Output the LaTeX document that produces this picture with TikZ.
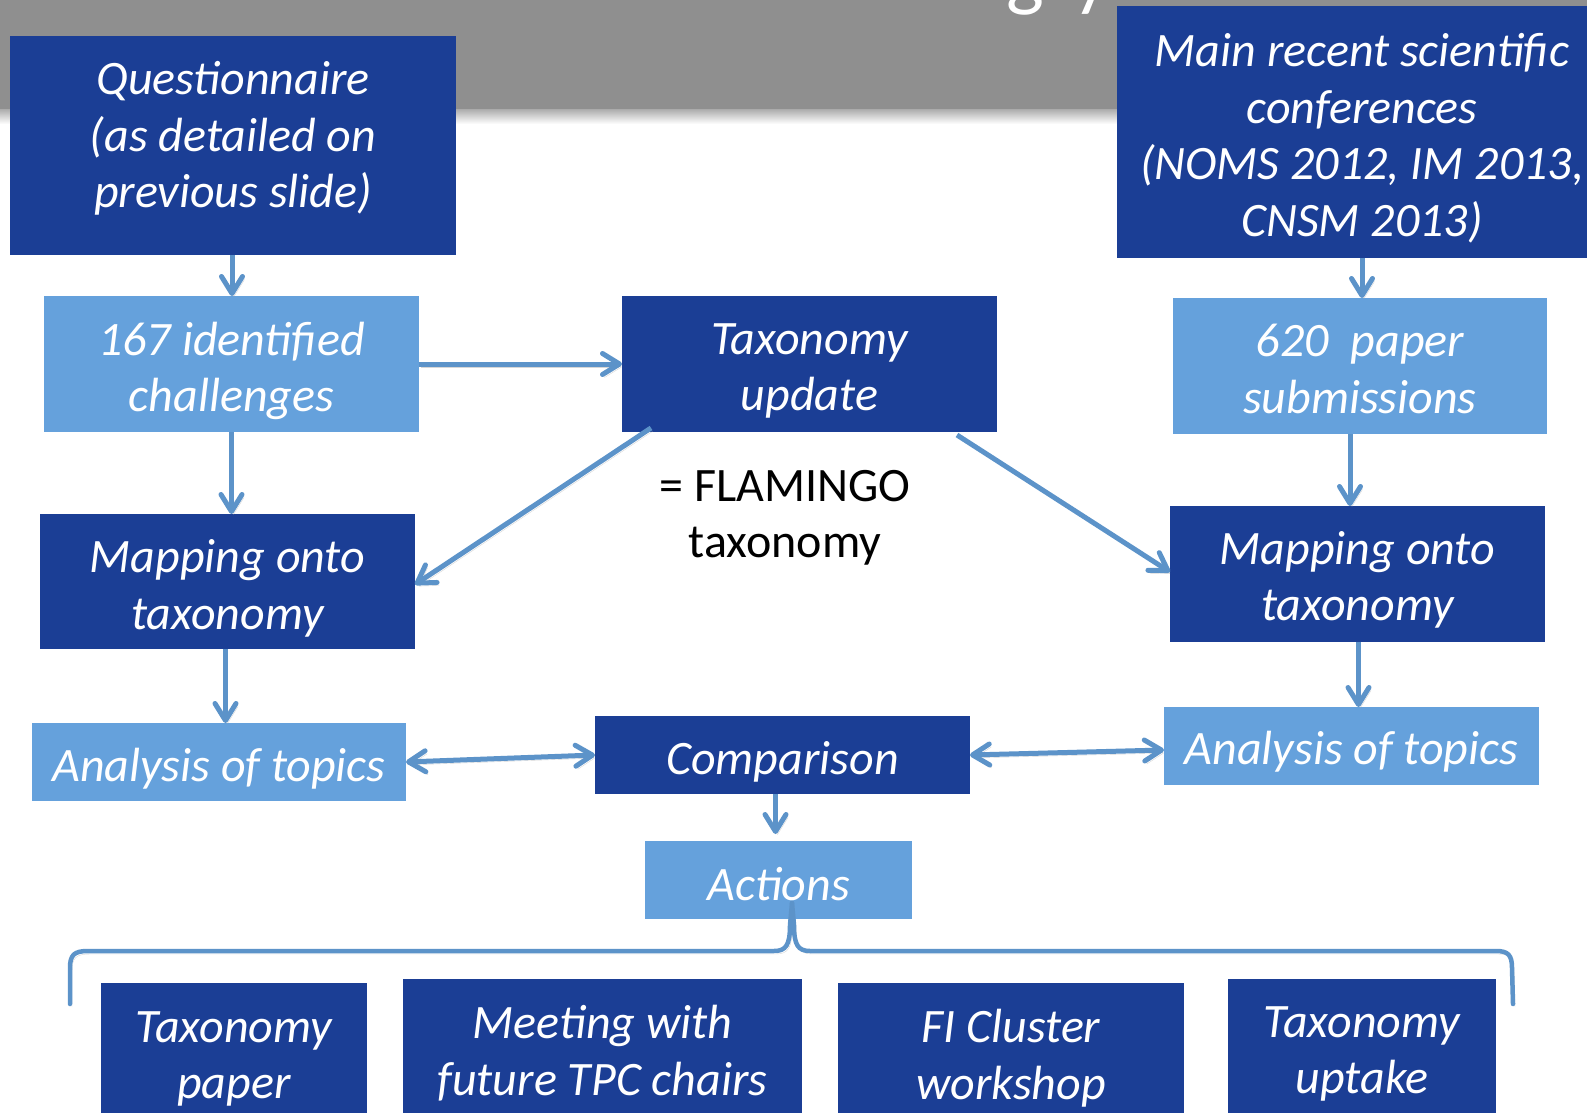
\documentclass[tikz,border=0pt]{standalone}
\usepackage{fontspec}
\setmainfont{Carlito}
\usetikzlibrary{arrows.meta,calc}
\definecolor{dkb}{RGB}{27,62,149}
\definecolor{ltb}{RGB}{101,161,220}
\definecolor{arr}{RGB}{92,147,201}
\definecolor{band}{RGB}{143,143,143}
\begin{document}
\begin{tikzpicture}[x=1pt,y=-1pt,
  txt/.style={font=\fontsize{48}{56.5}\selectfont\itshape, text=white, align=center, inner sep=0pt},
  box/.style={inner sep=0pt, outer sep=0pt},
  dark/.style={box, fill=dkb},
  light/.style={box, fill=ltb},
  tipb/.tip={Straight Barb[length=17pt,width=21pt,line width=5pt,round]},
  shad/.style={preaction={draw=black!35, opacity=0.45, transform canvas={xshift=2pt,yshift=-3pt}}},
  conn/.style={draw=arr, line width=5pt, -tipb, shad},
  conn2/.style={draw=arr, line width=5pt, tipb-tipb, shad},
  bracest/.style={draw=arr, line width=4.5pt, line cap=round, shad},
]
\useasboundingbox (0,0) rectangle (1587,1113);
\clip (0,0) rectangle (1587,1113);
\fill[white] (0,0) rectangle (1587,1113);
% top band
\fill[band] (0,0) rectangle (1587,110);
\shade[top color=band!70, bottom color=white] (0,110) rectangle (1587,124);
\node[font=\fontsize{80}{80}\selectfont, text=white, anchor=base west, inner sep=0pt] (title) at (1006,2) {g\kern30pt y};

% boxes
\node[dark, minimum width=446pt, minimum height=219pt,
  label={[txt, yshift=7pt]center:{Questionnaire\\(as detailed on\\previous slide)}}] (q) at (233,145.5) {};
\node[dark, minimum width=490pt, minimum height=252pt,
  label={[txt, yshift=-6pt]center:{Main recent scientific\\conferences\\(NOMS 2012, IM 2013,\\CNSM 2013)}}] (mr) at (1362,132) {};
\node[light, minimum width=375pt, minimum height=136pt,
  label={[txt, yshift=-7pt]center:{167 identified\\challenges}}] (c167) at (231.5,364) {};
\node[dark, minimum width=375pt, minimum height=136pt,
  label={[txt, yshift=-7pt]center:{Taxonomy\\update}}] (tax) at (809.5,364) {};
\node[light, minimum width=374pt, minimum height=136pt,
  label={[txt, yshift=-3pt]center:{620~ paper\\submissions}}] (p620) at (1360,366) {};
\node[dark, minimum width=375pt, minimum height=135pt,
  label={[txt, yshift=-7pt]center:{Mapping onto\\taxonomy}}] (mapL) at (227.5,581.5) {};
\node[dark, minimum width=375pt, minimum height=136pt,
  label={[txt, yshift=-6pt]center:{Mapping onto\\taxonomy}}] (mapR) at (1357.5,574) {};
\node[light, minimum width=374pt, minimum height=78pt,
  label={[txt, yshift=-7pt]center:{Analysis of topics}}] (anaL) at (219,762) {};
\node[dark, minimum width=375pt, minimum height=78pt,
  label={[txt, yshift=-7pt]center:{Comparison}}] (comp) at (782.5,755) {};
\node[light, minimum width=375pt, minimum height=78pt,
  label={[txt, yshift=-6pt]center:{Analysis of topics}}] (anaR) at (1351.5,746) {};
\node[light, minimum width=267pt, minimum height=78pt,
  label={[txt, yshift=-4pt]center:{Actions}}] (act) at (778.5,880) {};
\node[font=\fontsize{48}{56.5}\selectfont, text=black, align=center, inner sep=0pt] (flam) at (785,518) {= FLAMINGO\\taxonomy};

% bottom boxes
\node[dark, minimum width=266pt, minimum height=144pt,
  label={[txt, yshift=-4pt]center:{Taxonomy\\paper}}] (b1) at (234,1055) {};
\node[dark, minimum width=399pt, minimum height=144pt,
  label={[txt, yshift=-2pt]center:{Meeting with\\future TPC chairs}}] (b2) at (602.5,1051) {};
\node[dark, minimum width=346pt, minimum height=144pt,
  label={[txt, yshift=-3pt]center:{FI Cluster\\workshop}}] (b3) at (1011,1055) {};
\node[dark, minimum width=268pt, minimum height=144pt,
  label={[txt, yshift=-3pt]center:{Taxonomy\\uptake}}] (b4) at (1362,1051) {};

% connectors
\draw[conn] ([xshift=-1pt]q.south) -- ([xshift=-1pt]q.south |- c167.north);
\draw[conn] (c167.east) -- (tax.west);
\draw[conn] (c167.south) -- (c167.south |- mapL.north);
\draw[conn] ([xshift=29pt,yshift=4pt]tax.south west) -- ([yshift=-3pt]mapL.east);
\draw[conn] ([xshift=-40pt,yshift=-3pt]tax.south east) -- ([yshift=2pt]mapR.west);
\draw[conn] (mr.south) -- (mr.south |- p620.north);
\draw[conn] ([xshift=-10pt]p620.south) -- ([xshift=-10pt]p620.south |- mapR.north);
\draw[conn] ([xshift=-2pt]mapL.south) -- ([xshift=-2pt]mapL.south |- anaL.north);
\draw[conn] ([xshift=1pt]mapR.south) -- ([xshift=1pt]mapR.south |- anaR.north);
\draw[conn2] (anaL.east) -- (comp.west);
\draw[conn2] (comp.east) -- ([yshift=-4pt]anaR.west);
\draw[conn, shorten >=7pt] ([xshift=-7pt]comp.south) -- ([xshift=-7pt]comp.south |- act.north);

% brace
\coordinate (cusp) at (792,903);
\draw[bracest] (70,1004) -- (70,968) .. controls (70,955) and (74,951) .. (88,951) -- (774,951)
  .. controls (786,951) and (790,945) .. (790,925) -- (cusp);
\draw[bracest] (cusp) -- (794,925) .. controls (794,945) and (798,951) .. (810,951) -- (1496,951)
  .. controls (1508,951) and (1512,955) .. (1512,968) -- (1513,1004);
\end{tikzpicture}
\end{document}
